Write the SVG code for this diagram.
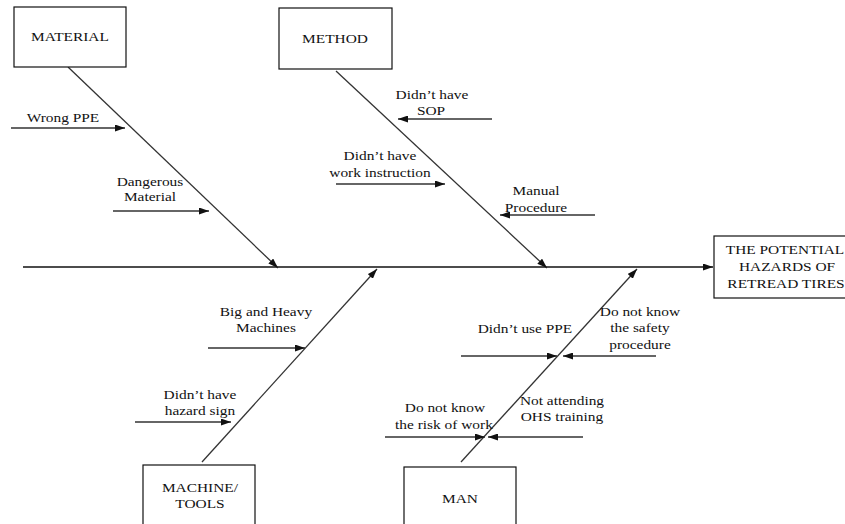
<svg xmlns="http://www.w3.org/2000/svg" width="845" height="524" viewBox="0 0 845 524">
<style>
text{font-family:"Liberation Serif","DejaVu Serif","Times New Roman",serif;font-size:13.5px;fill:#111;text-anchor:middle;transform-box:fill-box;transform-origin:center;transform:scaleX(1.14)}
.box{fill:#fff;stroke:#111;stroke-width:1.2}
.ln{stroke:#333;stroke-width:1.3;fill:none;marker-end:url(#ah)}
.main{stroke:#111;stroke-width:1.3;fill:none;marker-end:url(#ah)}
</style>
<defs>
<marker id="ah" markerUnits="userSpaceOnUse" markerWidth="10" markerHeight="7" refX="10" refY="3.5" orient="auto">
<path d="M0,0 L10,3.5 L0,7 z" fill="#111"/>
</marker>
</defs>
<rect width="845" height="524" fill="#fff"/>
<g id="connectors">
<line class="main" x1="23" y1="267" x2="713" y2="267"/>
<line class="ln" x1="68" y1="67" x2="278" y2="268"/>
<line class="ln" x1="336" y1="71" x2="547" y2="268"/>
<line class="ln" x1="202" y1="462" x2="377" y2="269"/>
<line class="ln" x1="461" y1="462" x2="637" y2="269"/>
<line class="ln" x1="11" y1="128" x2="125" y2="128"/>
<line class="ln" x1="113" y1="211" x2="209" y2="211"/>
<line class="ln" x1="492" y1="119" x2="398" y2="119"/>
<line class="ln" x1="336" y1="184" x2="445" y2="184"/>
<line class="ln" x1="595" y1="215" x2="500" y2="215"/>
<line class="ln" x1="208" y1="348" x2="305" y2="348"/>
<line class="ln" x1="135" y1="422" x2="231" y2="422"/>
<line class="ln" x1="461" y1="356" x2="557" y2="356"/>
<line class="ln" x1="656" y1="356" x2="563" y2="356"/>
<line class="ln" x1="385" y1="437" x2="485" y2="437"/>
<line class="ln" x1="583" y1="437" x2="488" y2="437"/>
</g>
<g id="material">
<rect class="box" x="14" y="7" width="112" height="60"/>
<text x="70" y="41">MATERIAL</text>
</g>
<g id="method">
<rect class="box" x="279" y="8" width="113" height="61"/>
<text x="335" y="43">METHOD</text>
</g>
<g id="effect">
<rect class="box" x="714" y="236" width="150" height="62"/>
<text x="785" y="254">THE POTENTIAL</text>
<text x="787" y="271">HAZARDS OF</text>
<text x="786" y="288">RETREAD TIRES</text>
</g>
<g id="machine">
<rect class="box" x="143" y="465" width="112" height="70"/>
<text x="200" y="492">MACHINE/</text>
<text x="200" y="508">TOOLS</text>
</g>
<g id="man">
<rect class="box" x="404" y="467" width="112" height="70"/>
<text x="460" y="503">MAN</text>
</g>
<g id="cause-wrong-ppe"><text x="63" y="122.5">Wrong PPE</text></g>
<g id="cause-dangerous-material"><text x="150" y="186.5">Dangerous</text><text x="150" y="201">Material</text></g>
<g id="cause-sop"><text x="432" y="99">Didn’t have</text><text x="431" y="115">SOP</text></g>
<g id="cause-work-instruction"><text x="380" y="160">Didn’t have</text><text x="380" y="177">work instruction</text></g>
<g id="cause-manual"><text x="536" y="195">Manual</text><text x="536" y="212">Procedure</text></g>
<g id="cause-big-machines"><text x="266" y="316.5">Big and Heavy</text><text x="266" y="332.5">Machines</text></g>
<g id="cause-hazard-sign"><text x="200" y="399">Didn’t have</text><text x="200" y="415">hazard sign</text></g>
<g id="cause-didnt-use-ppe"><text x="525" y="333">Didn’t use PPE</text></g>
<g id="cause-safety-procedure"><text x="640" y="316">Do not know</text><text x="640" y="332.5">the safety</text><text x="640" y="349">procedure</text></g>
<g id="cause-ohs"><text x="562" y="405">Not attending</text><text x="562" y="421.5">OHS training</text></g>
<g id="cause-risk"><text x="445" y="412.5">Do not know</text><text x="444" y="429">the risk of work</text></g>
</svg>
